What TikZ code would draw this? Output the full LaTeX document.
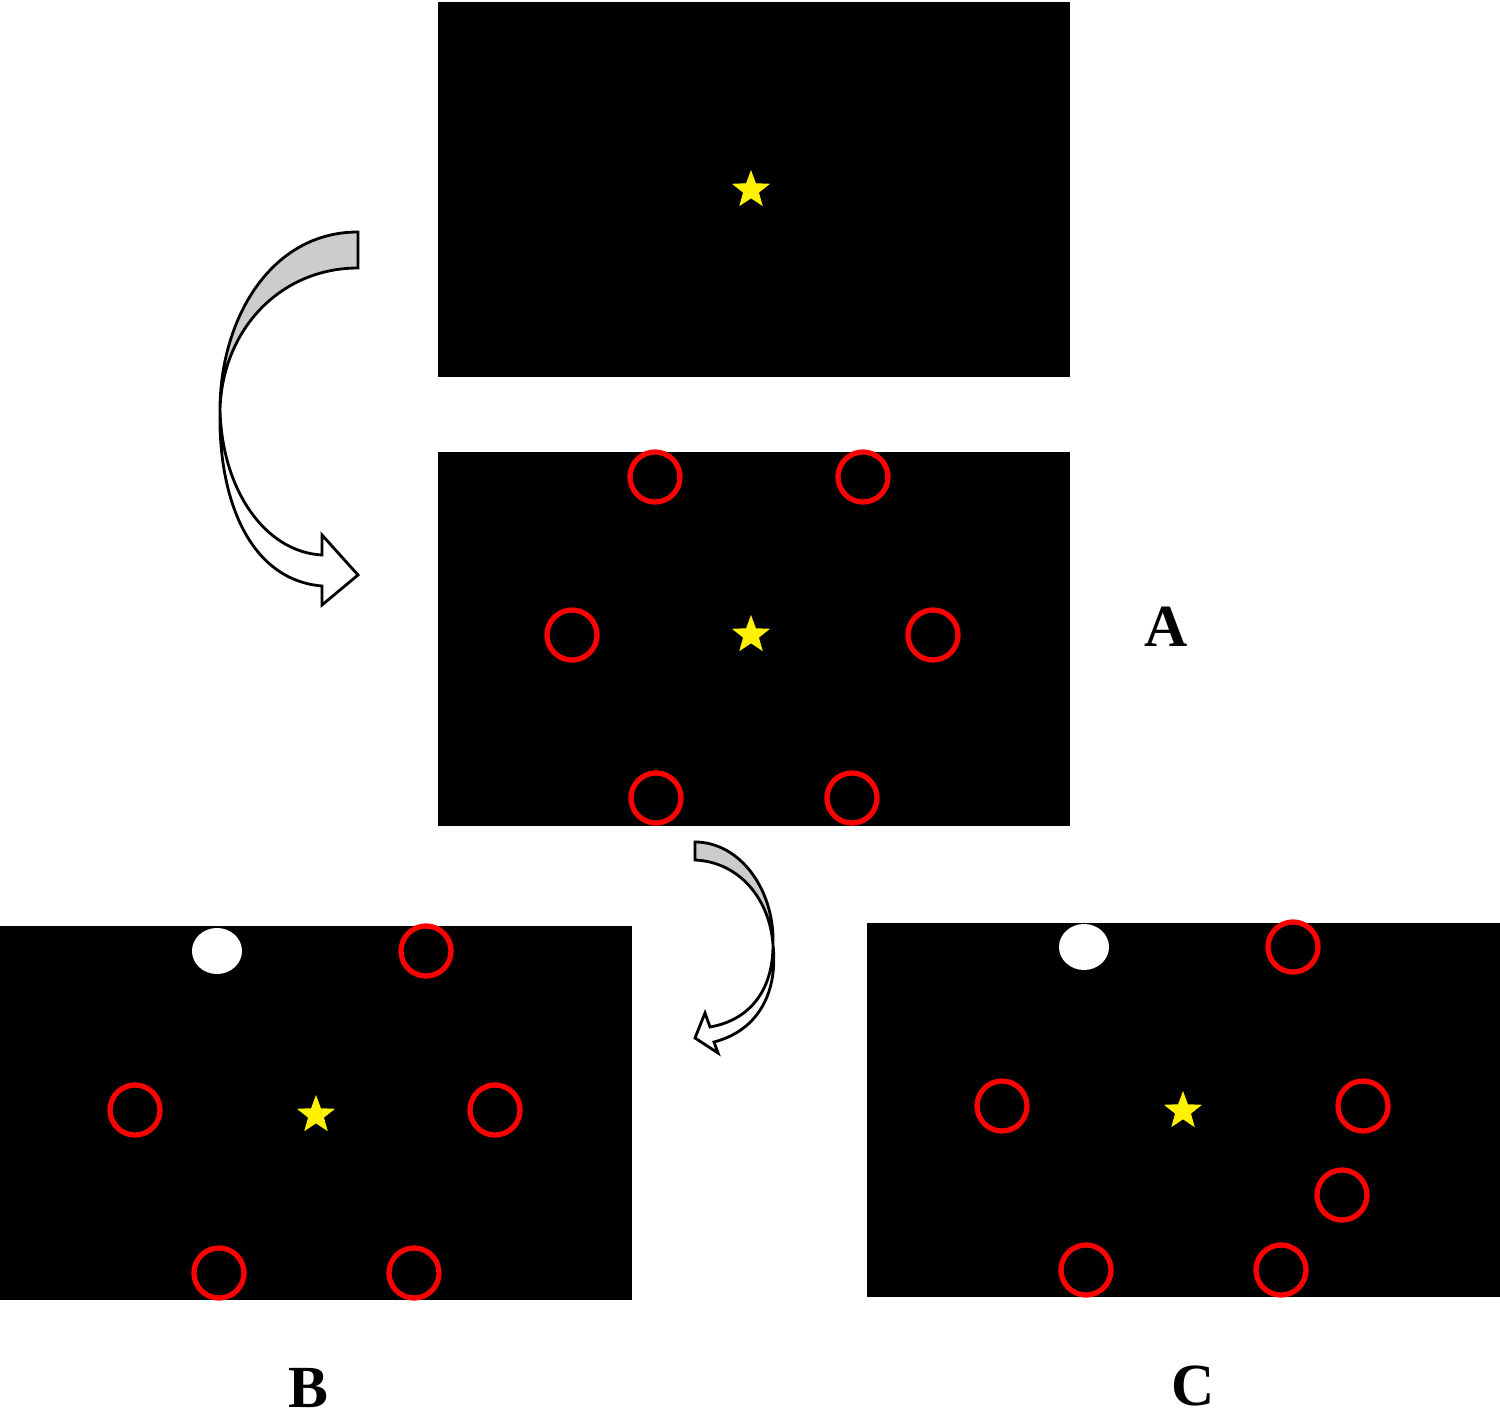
\documentclass[tikz,border=0pt]{standalone}
\usepackage{fontspec}
\setmainfont{Liberation Serif}
\usetikzlibrary{shapes.geometric}
\tikzset{
  panel/.style={fill=black},
  ring/.style={circle,draw=red,line width=1.5pt,minimum size=0.5cm,inner sep=0pt},
  dot/.style={ellipse,fill=white,minimum width=0.5cm,minimum height=0.46cm,inner sep=0pt},
  sun/.style={star,star points=5,star point ratio=2.4,fill=yellow,minimum size=0.4cm,inner sep=0pt},
  tag/.style={font=\fontsize{17}{20}\selectfont\bfseries},
  turnarrow/.style={draw=black,line width=0.8pt}
}
\begin{document}
\begin{tikzpicture}[x=0.01cm,y=-0.01cm]
\useasboundingbox (0,0) rectangle (1500,1410);
% Panels
\fill[panel] (438,2) rectangle (1070,377);
\fill[panel] (438,452) rectangle (1070,826);
\fill[panel] (0,926) rectangle (632,1300);
\fill[panel] (867,923) rectangle (1500,1297);

% Stars
\node[sun] (s0) at (751,190) {};
\node[sun] (s1) at (751,635) {};
\node[sun] (s2) at (316,1115) {};
\node[sun] (s3) at (1183,1111) {};

% Rings
\foreach \x/\y [count=\i] in {655/477,863/477,572/635,933/635,656/798,852/798} {
    \node[ring] (a\i) at (\x,\y) {};
}
\foreach \x/\y [count=\i] in {426/951,135/1110,495/1110,219/1273,414/1273} {
    \node[ring] (b\i) at (\x,\y) {};
}
\foreach \x/\y [count=\i] in {1293/947,1002/1106,1363/1106,1342/1195,1086/1270,1281/1270} {
    \node[ring] (c\i) at (\x,\y) {};
}
\node[dot] (bw) at (217,951) {};
\node[dot] (cw) at (1084,947) {};

% Labels
\node[tag] (la) at (1166,627) {A};
\node[tag] (lb) at (308,1388) {B};
\node[tag] (lc) at (1193,1386) {C};

% Arrows
\filldraw[turnarrow,fill=black!20] (358,232) -- (358,268) .. controls (280,268) and (222,330) .. (220,410)
  .. controls (220,320) and (270,232) .. (358,232) -- cycle;
\filldraw[turnarrow,fill=white] (220,410) .. controls (222,490) and (265,552) .. (322,555) -- (322,535) -- (358,575)
  -- (322,605) -- (322,586) .. controls (250,580) and (218,500) .. (220,410) -- cycle;
\filldraw[turnarrow,fill=black!20] (695,842) -- (695,860) .. controls (740,862) and (770,900) .. (773,945)
  .. controls (775,890) and (740,842) .. (695,842) -- cycle;
\filldraw[turnarrow,fill=white] (773,945) .. controls (773,990) and (750,1020) .. (710,1027) -- (705,1013) -- (695,1038)
  -- (718,1053) -- (714,1042) .. controls (760,1030) and (778,990) .. (773,945) -- cycle;
\end{tikzpicture}
\end{document}
